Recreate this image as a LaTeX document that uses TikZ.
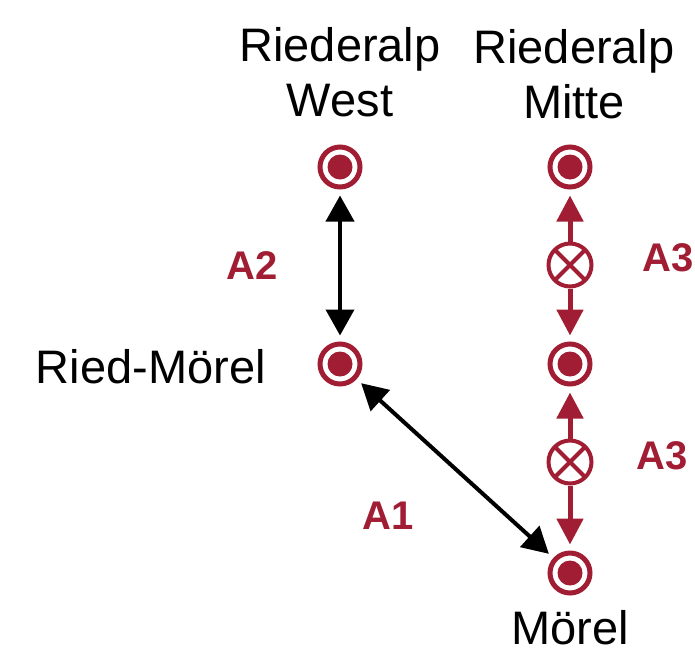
\documentclass[tikz,border=0pt]{standalone}
\usepackage{fontspec}
\setmainfont{Liberation Sans}
\usetikzlibrary{arrows.meta}
\definecolor{wred}{HTML}{A11D33}
\begin{document}
\begin{tikzpicture}[x=1pt,y=-1pt,
  station/.style={circle,draw=wred,line width=5pt,fill=white,minimum size=40pt,inner sep=0pt,
    path picture={\fill[wred] (path picture bounding box.center) circle (12.5pt);}},
  xing/.style={circle,draw=wred,line width=4pt,fill=white,minimum size=43pt,inner sep=0pt,
    path picture={\draw[wred,line width=4pt] ([shift={(-20pt,-20pt)}]path picture bounding box.center) -- ([shift={(20pt,20pt)}]path picture bounding box.center);
      \draw[wred,line width=4pt] ([shift={(-20pt,20pt)}]path picture bounding box.center) -- ([shift={(20pt,-20pt)}]path picture bounding box.center);}},
  lbl/.style={font=\fontsize{47}{55}\selectfont,text=black,inner sep=0pt},
  alab/.style={font=\fontsize{40}{44}\selectfont\bfseries,text=wred,inner sep=0pt},
  barrow/.style={line width=4pt,black,{Triangle[length=26pt,width=28pt]}-{Triangle[length=26pt,width=28pt]},shorten <=6pt,shorten >=6pt},
  rarrow/.style={line width=5pt,wred,-{Triangle[length=26pt,width=26pt]},shorten >=6pt}]
\useasboundingbox (0,0) rectangle (695,654);
\node[station] (rw) at (340,167) {};
\node[station] (rm) at (340,364) {};
\node[station] (mi) at (570,167) {};
\node[station] (m2) at (570,364) {};
\node[station] (mo) at (570,573) {};
\node[xing] (x1) at (570,265) {};
\node[xing] (x2) at (570,462) {};
\node[lbl,align=center] (trw) at (340,72) {Riederalp\\West};
\node[lbl,align=center] (tmi) at (574,74) {Riederalp\\Mitte};
\node[lbl,anchor=east] (trm) at (266,367) {Ried-Mörel};
\node[lbl] (tmo) at (570,628) {Mörel};
\draw[barrow] (rw) -- (rm);
\draw[barrow] (rm) -- (mo);
\draw[rarrow] (x1) -- (mi);
\draw[rarrow] (x1) -- (m2);
\draw[rarrow] (x2) -- (m2);
\draw[rarrow] (x2) -- (mo);
\node[alab] (a2) at (252,266) {A2};
\node[alab] (a3a) at (668,258) {A3};
\node[alab] (a3b) at (662,456) {A3};
\node[alab] (a1) at (388,516) {A1};
\end{tikzpicture}
\end{document}
